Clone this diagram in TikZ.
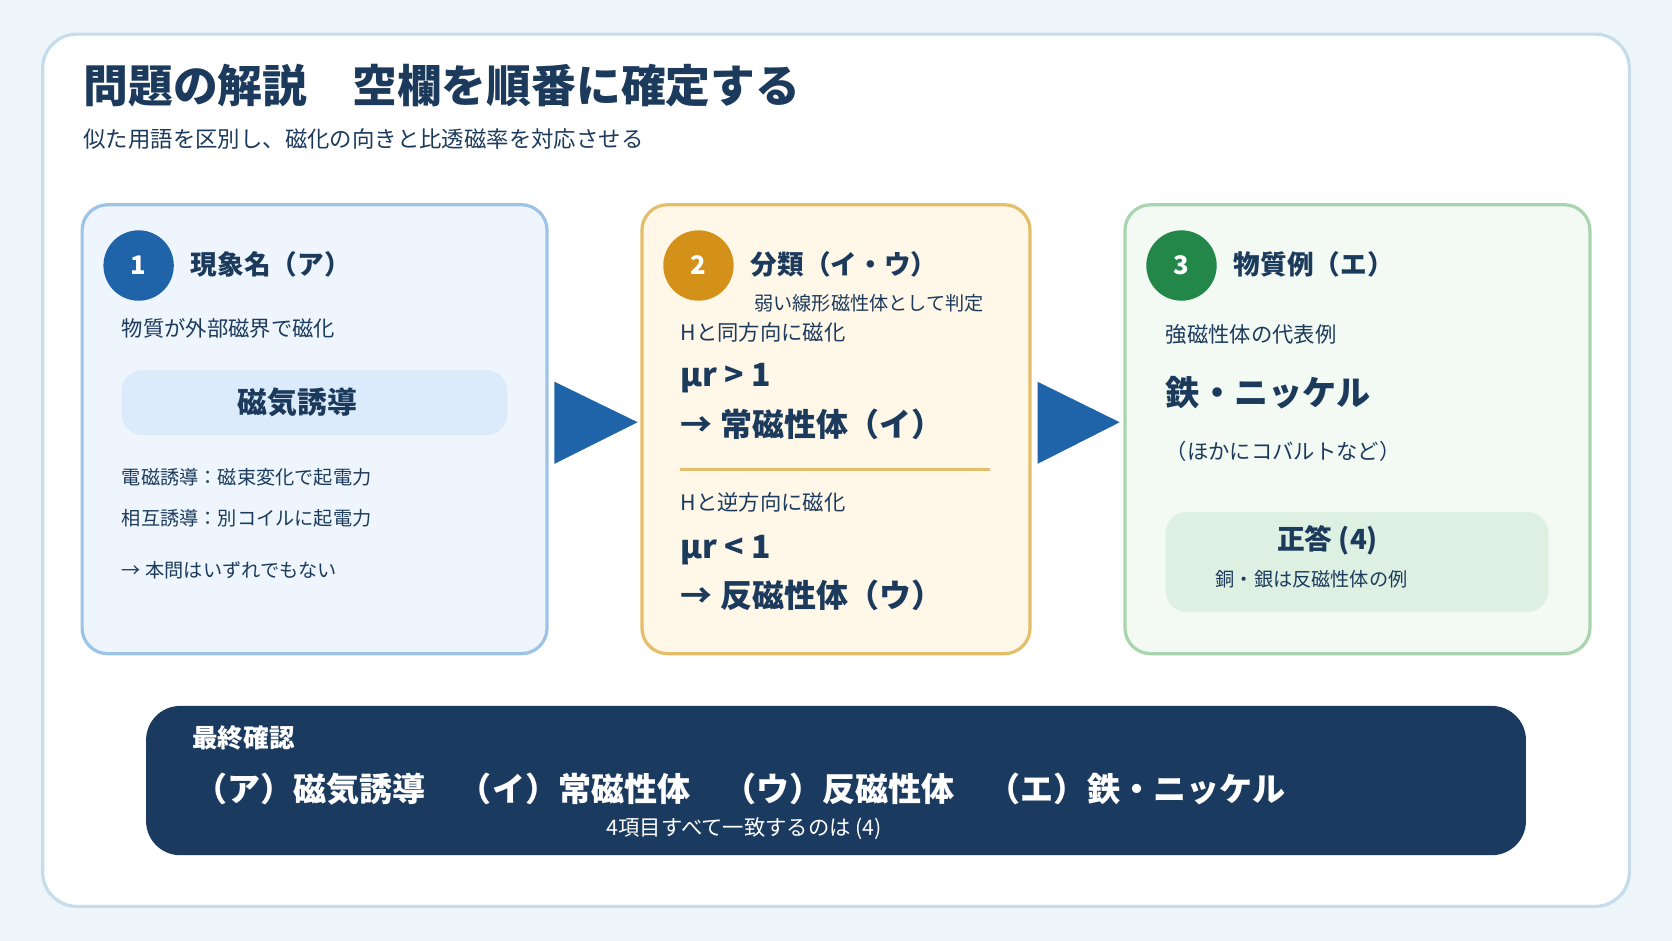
\documentclass[tikz,border=0pt]{standalone}
\usepackage{fontspec}
\setmainfont{Noto Sans CJK JP}
\definecolor{navy}{HTML}{1B3A5C}
\definecolor{bgc}{HTML}{EEF6FA}
\definecolor{cardb}{HTML}{C4DCEC}
\definecolor{bluef}{HTML}{EEF5FD}
\definecolor{blueb}{HTML}{9DC3E6}
\definecolor{bluei}{HTML}{DCEBFB}
\definecolor{blued}{HTML}{1F64A8}
\definecolor{orf}{HTML}{FFF7E8}
\definecolor{orb}{HTML}{E5BE6A}
\definecolor{ord}{HTML}{D4911A}
\definecolor{grf}{HTML}{F2FAF3}
\definecolor{grb}{HTML}{A8D5AE}
\definecolor{gri}{HTML}{DDF0E2}
\definecolor{grd}{HTML}{24874A}
\definecolor{bar}{HTML}{1B3A5F}
\begin{document}
\begin{tikzpicture}[x=0.5pt, y=-0.5pt,
    panel/.style={draw, line width=1.5pt, rounded corners=12pt},
    num/.style={circle, minimum size=33pt, inner sep=0pt, text=white, font=\bfseries\fontsize{12}{14}\selectfont},
    head/.style={anchor=west, text=navy, font=\bfseries\fontsize{12.5}{15}\selectfont},
    txt/.style={anchor=west, text=navy, font=\fontsize{10}{12}\selectfont, inner sep=0pt},
    sml/.style={anchor=west, text=navy, font=\fontsize{9}{11}\selectfont, inner sep=0pt},
    big/.style={anchor=west, text=navy, font=\bfseries\fontsize{15}{18}\selectfont, inner sep=0pt},
    tri/.style={fill=blued},
  ]
  % background and card
  \fill[bgc] (0,0) rectangle (1568,882);
  \useasboundingbox (0,0) rectangle (1568,882);
  \draw[cardb, fill=white, line width=1.5pt, rounded corners=16pt] (40,32) rectangle (1528,850);

  % title
  \node[anchor=west, inner sep=0pt, text=navy, font=\bfseries\fontsize{21}{25}\selectfont] (title) at (78,80) {問題の解説\quad 空欄を順番に確定する};
  \node[txt, font=\fontsize{10.5}{12}\selectfont] (sub) at (78,130) {似た用語を区別し、磁化の向きと比透磁率を対応させる};

  % panel 1
  \draw[panel, blueb, fill=bluef] (77,192) rectangle (513,613);
  \node[num, fill=blued] (n1) at (130,249) {1};
  \node[head] (h1) at (172,248) {現象名（ア）};
  \node[txt] (t1) at (114,308) {物質が外部磁界で磁化};
  \fill[bluei, rounded corners=10pt] (114,347) rectangle (476,408);
  \node[text=navy, font=\bfseries\fontsize{14}{16}\selectfont] (mi) at (279,377) {磁気誘導};
  \node[sml] (e1) at (114,448) {電磁誘導：磁束変化で起電力};
  \node[sml] (e2) at (114,486) {相互誘導：別コイルに起電力};
  \node[sml] (e3) at (114,535) {→ 本問はいずれでもない};

  % arrows
  \fill[tri] (520,358) -- (520,435) -- (598,396) -- cycle;
  \fill[tri] (973,358) -- (973,435) -- (1050,396) -- cycle;

  % panel 2
  \draw[panel, orb, fill=orf] (602,192) rectangle (966,613);
  \node[num, fill=ord] (n2) at (655,249) {2};
  \node[head] (h2) at (697,248) {分類（イ・ウ）};
  \node[sml] (c2) at (707,284) {弱い線形磁性体として判定};
  \node[txt] (p1) at (638,312) {Hと同方向に磁化};
  \node[big] (m1) at (638,355) {μr > 1};
  \node[big] (r1) at (638,398) {→ 常磁性体（イ）};
  \draw[orb, line width=1.5pt] (638,440) -- (928,440);
  \node[txt] (p2) at (638,471) {Hと逆方向に磁化};
  \node[big] (m2) at (638,516) {μr < 1};
  \node[big] (r2) at (638,558) {→ 反磁性体（ウ）};

  % panel 3
  \draw[panel, grb, fill=grf] (1055,192) rectangle (1491,613);
  \node[num, fill=grd] (n3) at (1108,249) {3};
  \node[head] (h3) at (1150,248) {物質例（エ）};
  \node[txt] (t3) at (1093,314) {強磁性体の代表例};
  \node[big, font=\bfseries\fontsize{16}{19}\selectfont] (fe) at (1093,368) {鉄・ニッケル};
  \node[txt] (co) at (1093,423) {（ほかにコバルトなど）};
  \fill[gri, rounded corners=10pt] (1093,480) rectangle (1452,574);
  \node[text=navy, font=\bfseries\fontsize{13}{15}\selectfont] (ans) at (1245,507) {正答 (4)};
  \node[text=navy, font=\fontsize{9}{11}\selectfont] (ex) at (1230,543) {銅・銀は反磁性体の例};

  % final bar
  \fill[bar, rounded corners=16pt] (137,662) rectangle (1431,802);
  \node[anchor=west, inner sep=0pt, text=white, font=\bfseries\fontsize{12}{14}\selectfont] (fin) at (180,692) {最終確認};
  \node[anchor=west, inner sep=0pt, text=white, font=\bfseries\fontsize{15.5}{18}\selectfont] (all) at (182,740) {（ア）磁気誘導\quad（イ）常磁性体\quad（ウ）反磁性体\quad（エ）鉄・ニッケル};
  \node[text=white, font=\fontsize{10}{12}\selectfont] (one) at (698,777) {4項目すべて一致するのは (4)};
\end{tikzpicture}
\end{document}
